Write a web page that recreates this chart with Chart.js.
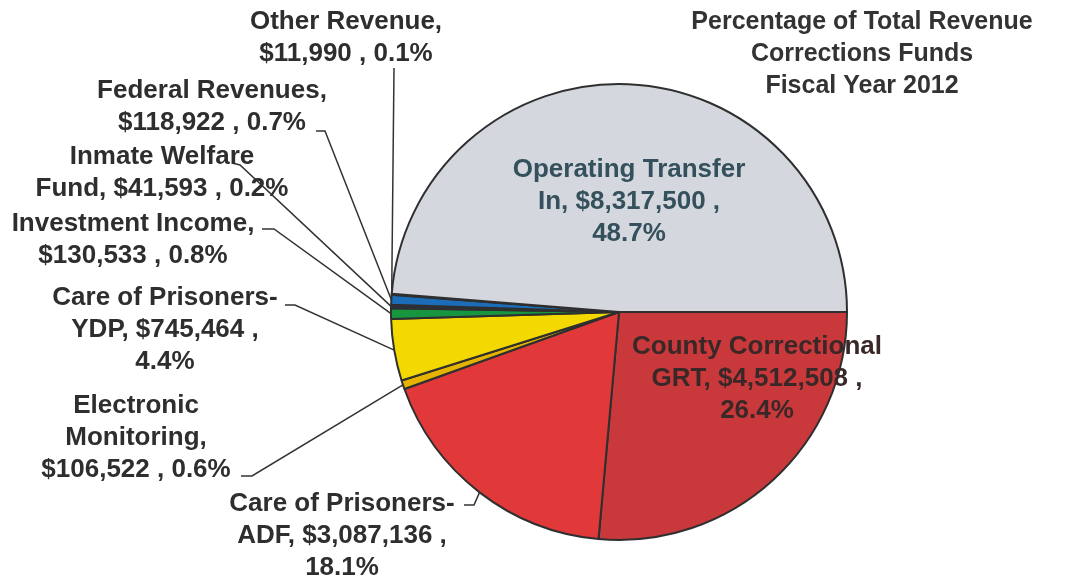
<!DOCTYPE html>
<html>
<head>
<meta charset="utf-8">
<title>Percentage of Total Revenue - Corrections Funds FY2012</title>
<script src="https://cdn.jsdelivr.net/npm/chart.js@4.4.1/dist/chart.umd.min.js"></script>
<style>
    html, body { margin: 0; padding: 0; background: #ffffff; }
    #wrap { width: 1090px; height: 576px; position: relative; }
</style>
</head>
<body>
<div id="wrap"><canvas id="revenueChart" width="1090" height="576"></canvas></div>
<script>
// Veriler (saat yönünde, sağdan başlayarak)
const categories = [
    'County Correctional GRT',
    'Care of Prisoners-ADF',
    'Electronic Monitoring',
    'Care of Prisoners-YDP',
    'Investment Income',
    'Inmate Welfare Fund',
    'Federal Revenues',
    'Other Revenue',
    'Operating Transfer In'
];
const amounts = [4512508, 3087136, 106522, 745464, 130533, 41593, 118922, 11990, 8317500];
const percents = [26.4, 18.1, 0.6, 4.4, 0.8, 0.2, 0.7, 0.1, 48.7];
const titleLines = ['Percentage of Total Revenue', 'Corrections Funds', 'Fiscal Year 2012'];

const sliceColors = ['#c9393b', '#e1383a', '#e6b400', '#f4d900', '#17963f', '#2b2f4a', '#1b6db8', '#6a6a6a', '#d4d7dd'];

function money(v) {
    return '$' + v.toLocaleString('en-US');
}
function pct(i) {
    return percents[i].toFixed(1) + '%';
}

// Etiket satırları
const labelLines = [
    ['County Correctional', 'GRT, ' + money(amounts[0]) + ' ,', pct(0)],
    ['Care of Prisoners-', 'ADF, ' + money(amounts[1]) + ' ,', pct(1)],
    ['Electronic', 'Monitoring,', money(amounts[2]) + ' , ' + pct(2)],
    ['Care of Prisoners-', 'YDP, ' + money(amounts[3]) + ' ,', pct(3)],
    ['Investment Income,', money(amounts[4]) + ' , ' + pct(4)],
    ['Inmate Welfare', 'Fund, ' + money(amounts[5]) + ' , ' + pct(5)],
    ['Federal Revenues,', money(amounts[6]) + ' , ' + pct(6)],
    ['Other Revenue,', money(amounts[7]) + ' , ' + pct(7)],
    ['Operating Transfer', 'In, ' + money(amounts[8]) + ' ,', pct(8)]
];

// Etiket yerleşimi: merkez x, ilk satır y, kılavuz çizgi noktaları
const labelLayout = [
    { x: 757, y: 347, color: '#3a2828', leader: null },
    { x: 342, y: 504, color: '#2e2e2e', leader: [[464, 505], [474, 505]] },
    { x: 136, y: 406, color: '#2e2e2e', leader: [[241, 476], [252, 476]] },
    { x: 165, y: 298, color: '#2e2e2e', leader: [[285, 305], [295, 305]] },
    { x: 133, y: 224, color: '#2e2e2e', leader: [[262, 229], [274, 229]] },
    { x: 162, y: 157, color: '#2e2e2e', leader: [[232, 163], [240, 165]] },
    { x: 212, y: 91, color: '#2e2e2e', leader: [[316, 131], [325, 131]] },
    { x: 346, y: 22, color: '#2e2e2e', leader: [[394, 68]] },
    { x: 629, y: 170, color: '#34505c', leader: null }
];

const FONT = 'bold 26px "Liberation Sans", Arial, sans-serif';
const TITLE_FONT = 'bold 25px "Liberation Sans", Arial, sans-serif';
const LINE_H = 32;

// Etiketleri ve başlığı çizen eklenti
const labelPlugin = {
    id: 'sliceLabels',
    afterDatasetsDraw(chart) {
        const ctx = chart.ctx;
        const arcs = chart.getDatasetMeta(0).data;
        ctx.save();

        // Kılavuz çizgiler
        ctx.strokeStyle = '#333333';
        ctx.lineWidth = 1.5;
        labelLayout.forEach((lay, i) => {
            if (!lay.leader) return;
            const a = arcs[i].getProps(['x', 'y', 'startAngle', 'endAngle', 'outerRadius'], true);
            const mid = (a.startAngle + a.endAngle) / 2;
            const px = a.x + Math.cos(mid) * a.outerRadius;
            const py = a.y + Math.sin(mid) * a.outerRadius;
            ctx.beginPath();
            ctx.moveTo(lay.leader[0][0], lay.leader[0][1]);
            for (let k = 1; k < lay.leader.length; k++) {
                ctx.lineTo(lay.leader[k][0], lay.leader[k][1]);
            }
            ctx.lineTo(px, py);
            ctx.stroke();
        });

        // Metinler
        ctx.font = FONT;
        ctx.textAlign = 'center';
        ctx.textBaseline = 'middle';
        labelLayout.forEach((lay, i) => {
            ctx.fillStyle = lay.color;
            labelLines[i].forEach((line, j) => {
                ctx.fillText(line, lay.x, lay.y + j * LINE_H);
            });
        });

        // Başlık
        ctx.font = TITLE_FONT;
        ctx.fillStyle = '#333333';
        titleLines.forEach((line, j) => {
            ctx.fillText(line, 862, 22 + j * 32);
        });

        ctx.restore();
    }
};

const ctx = document.getElementById('revenueChart').getContext('2d');
const revenueChart = new Chart(ctx, {
    type: 'pie',
    data: {
        labels: categories,
        datasets: [{
            data: amounts,
            backgroundColor: sliceColors,
            borderColor: '#2f2f2f',
            borderWidth: 2
        }]
    },
    options: {
        responsive: false,
        animation: false,
        devicePixelRatio: 1,
        rotation: 90,
        layout: {
            padding: { left: 390, right: 242, top: 83, bottom: 35 }
        },
        plugins: {
            legend: { display: false },
            tooltip: { enabled: false },
            title: { display: false }
        }
    },
    plugins: [labelPlugin]
});
</script>
</body>
</html>
